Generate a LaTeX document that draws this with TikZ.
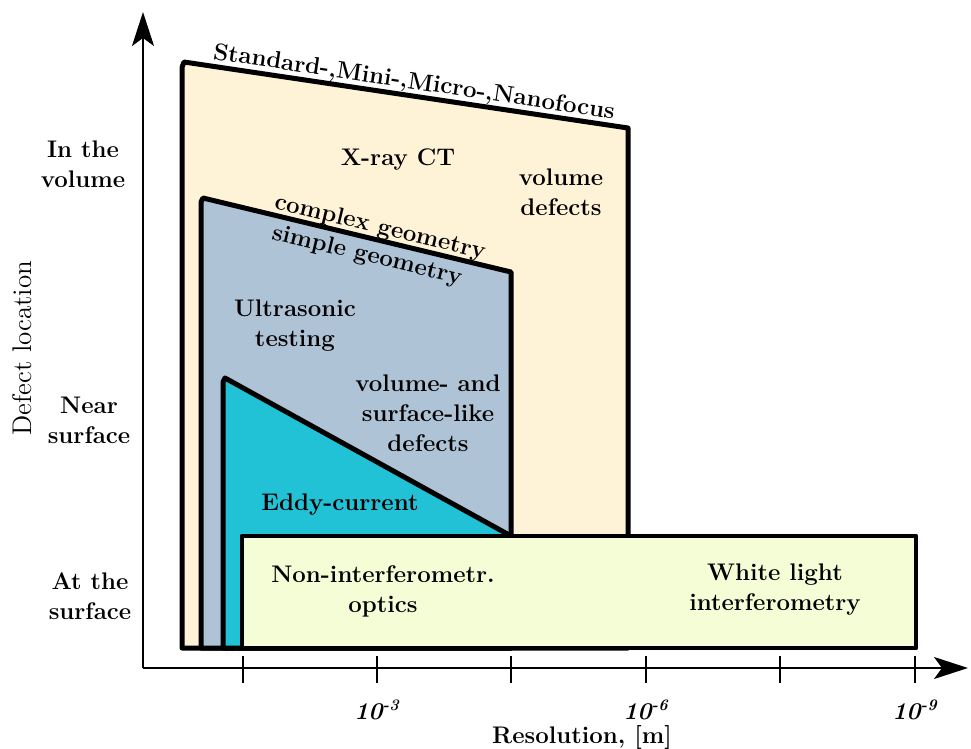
\documentclass[tikz,border=0pt]{standalone}
\usetikzlibrary{arrows.meta}
\definecolor{creamc}{RGB}{255,243,215}
\definecolor{bluec}{RGB}{175,195,214}
\definecolor{cyanc}{RGB}{34,194,214}
\definecolor{limec}{RGB}{245,253,215}
\tikzset{
  region/.style={draw=black, line width=2.5pt, line join=round},
  lbl/.style={font=\fontsize{12}{15}\selectfont\bfseries, align=center, inner sep=0pt},
  axis/.style={line width=1pt, -{Stealth[length=17pt, width=11pt, inset=4pt]}},
  tick/.style={line width=1pt},
  ticklbl/.style={font=\fontsize{12}{15}\selectfont\bfseries\itshape, inner sep=0pt}
}
\begin{document}
\begin{tikzpicture}[x=0.5pt, y=-0.5pt]
\useasboundingbox (0,0) rectangle (971,749);
% regions
\draw[region, fill=creamc] (182,648) -- (182,75) .. controls (182,66) .. (184,62) -- (628,128) -- (628,648) -- cycle;
\draw[region, fill=bluec] (201,648) -- (201,208) .. controls (201,201) .. (203,198) -- (511,272) -- (511,648) -- cycle;
\draw[region, fill=cyanc] (223,648) -- (223,388) .. controls (223,381) .. (225,378) -- (511,536) -- (511,648) -- cycle;
\draw[region, fill=limec, line width=2.2pt] (242,536) rectangle (916,648);
% axes
\coordinate (o) at (143,668);
\coordinate (ytip) at (143,12);
\coordinate (xtip) at (968,668);
\draw[axis] (o) -- (ytip);
\draw[axis] (o) -- (xtip);
\foreach \x in {243,377,511,646,780,915} \draw[tick] (\x,656) -- (\x,683);
\node[ticklbl] (t3) at (377,710) {10\textsuperscript{-3}};
\node[ticklbl] (t6) at (646,710) {10\textsuperscript{-6}};
\node[ticklbl] (t9) at (915,710) {10\textsuperscript{-9}};
\node[lbl] (xlab) at (582,737) {Resolution, [m]};
\node[font=\fontsize{13.5}{16}\selectfont, rotate=90, inner sep=0pt] (ylab) at (22,348) {Defect location};
\node[lbl] (yv) at (83,164) {In the\\volume};
\node[lbl] (yn) at (89,420) {Near\\surface};
\node[lbl] (ys) at (90,596) {At the\\surface};
% texts
\node[lbl, rotate=-8.5] (std) at (414,83) {Standard-,Mini-,Micro-,Nanofocus};
\node[lbl] (xct) at (398,160) {X-ray CT};
\node[lbl] (vd) at (561,192) {volume\\defects};
\node[lbl, rotate=-13.5] (cg) at (380,228) {complex geometry};
\node[lbl, rotate=-13.5] (sg) at (367,256) {simple geometry};
\node[lbl] (ut) at (295,326) {Ultrasonic\\testing};
\node[lbl] (vs) at (428,413) {volume- and\\surface-like\\defects};
\node[lbl] (ec) at (340,505) {Eddy-current};
\node[lbl] (nio) at (383,591) {Non-interferometr.\\optics};
\node[lbl] (wli) at (775,590) {White light\\interferometry};
\end{tikzpicture}
\end{document}
